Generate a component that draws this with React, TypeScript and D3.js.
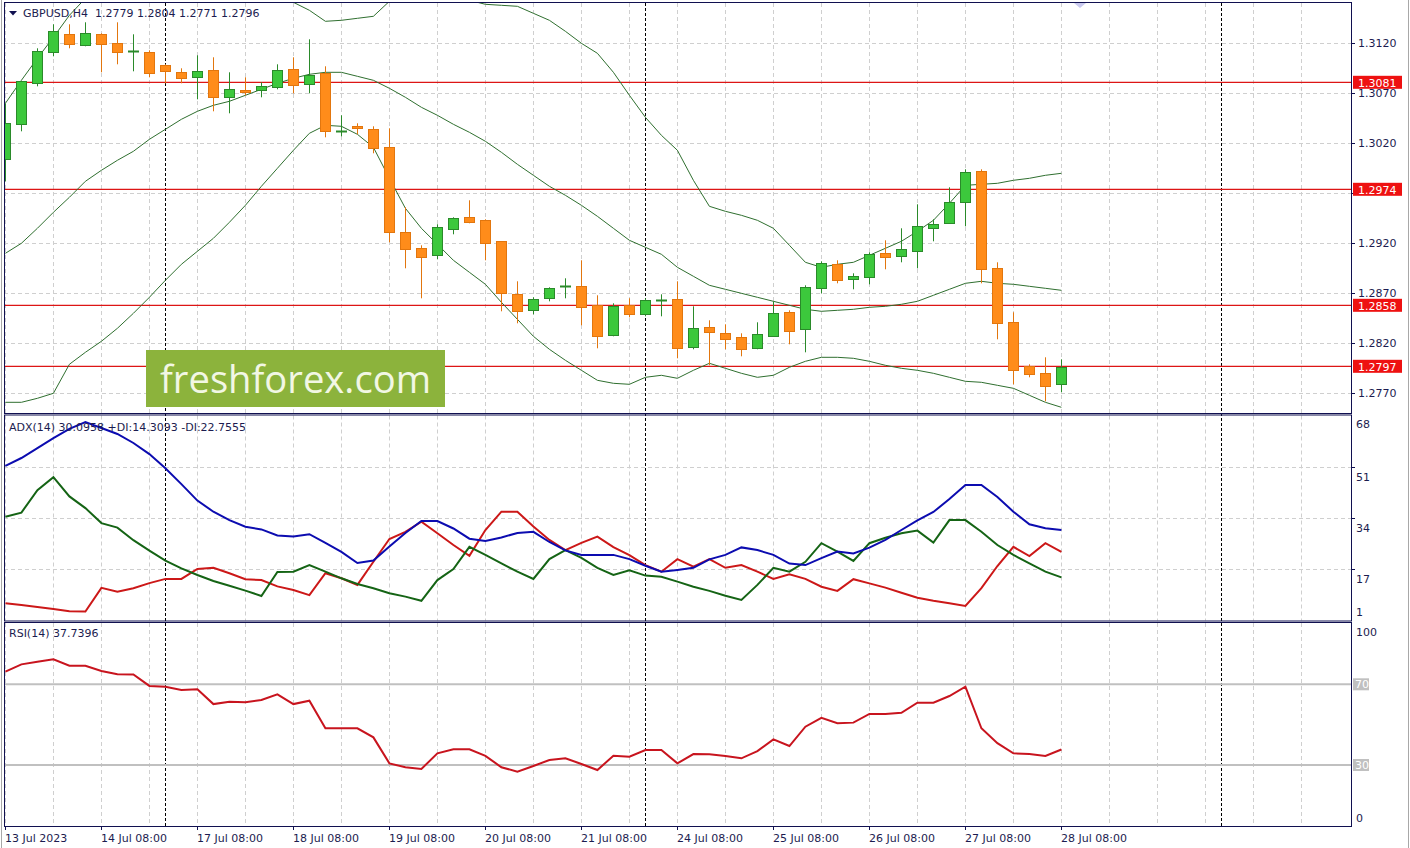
import React from 'react';
import * as d3 from 'd3';

// ---------- DATA ----------
const symbolHeader = 'GBPUSD,H4  1.2779 1.2804 1.2771 1.2796';
const adxHeader = 'ADX(14) 30.0958 +DI:14.3093 -DI:22.7555';
const rsiHeader = 'RSI(14) 37.7396';

const openP = [1.3004,1.3039,1.3080,1.3111,1.3129,1.3118,1.3129,1.3120,1.3111,1.3111,
  1.3098,1.3091,1.3086,1.3093,1.3066,1.3073,1.3073,1.3076,1.3094,1.3079,
  1.3090,1.3031,1.3037,1.3034,1.3016,1.2931,1.2915,1.2908,1.2934,1.2946,
  1.2943,1.2922,1.2869,1.2853,1.2865,1.2876,1.2877,1.2858,1.2828,1.2858,
  1.2849,1.2862,1.2864,1.2816,1.2836,1.2830,1.2826,1.2815,1.2827,1.2851,
  1.2834,1.2875,1.2899,1.2884,1.2886,1.2910,1.2907,1.2912,1.2935,1.2940,
  1.2961,1.2992,1.2895,1.2841,1.2797,1.2790,1.2779];
const highP = [1.3060,1.3082,1.3115,1.3139,1.3139,1.3141,1.3130,1.3141,1.3129,1.3113,
  1.3099,1.3095,1.3108,1.3106,1.3091,1.3086,1.3081,1.3099,1.3106,1.3124,
  1.3097,1.3048,1.3040,1.3037,1.3035,1.2956,1.2918,1.2939,1.2946,1.2963,
  1.2944,1.2922,1.2882,1.2866,1.2876,1.2885,1.2903,1.2868,1.2860,1.2865,
  1.2865,1.2869,1.2882,1.2857,1.2843,1.2839,1.2830,1.2841,1.2862,1.2853,
  1.2878,1.2902,1.2903,1.2890,1.2911,1.2923,1.2935,1.2959,1.2944,1.2976,
  1.2994,1.2994,1.2901,1.2851,1.2799,1.2806,1.2804];
const lowP = [1.2982,1.3032,1.3077,1.3107,1.3115,1.3117,1.3091,1.3099,1.3092,1.3086,
  1.3080,1.3080,1.3064,1.3052,1.3050,1.3068,1.3066,1.3074,1.3070,1.3070,
  1.3026,1.3027,1.3029,1.3010,1.2921,1.2895,1.2865,1.2904,1.2929,1.2940,
  1.2903,1.2852,1.2840,1.2849,1.2862,1.2865,1.2838,1.2815,1.2827,1.2846,
  1.2847,1.2847,1.2805,1.2814,1.2798,1.2814,1.2807,1.2814,1.2827,1.2819,
  1.2811,1.2870,1.2880,1.2874,1.2879,1.2894,1.2901,1.2895,1.2922,1.2940,
  1.2937,1.2880,1.2824,1.2779,1.2786,1.2762,1.2771];
const closeP = [1.3040,1.3082,1.3112,1.3132,1.3119,1.3130,1.3119,1.3111,1.3112,1.3090,
  1.3092,1.3085,1.3092,1.3066,1.3074,1.3071,1.3077,1.3093,1.3078,1.3088,
  1.3032,1.3032,1.3035,1.3015,1.2931,1.2914,1.2906,1.2936,1.2945,1.2941,
  1.2920,1.2870,1.2852,1.2864,1.2875,1.2877,1.2856,1.2827,1.2857,1.2849,
  1.2863,1.2863,1.2815,1.2835,1.2831,1.2824,1.2814,1.2829,1.2850,1.2832,
  1.2876,1.2900,1.2883,1.2887,1.2909,1.2906,1.2914,1.2937,1.2939,1.2961,
  1.2991,1.2894,1.2840,1.2793,1.2789,1.2777,1.2796];

const bbUpper = [1.3060,1.3083,1.3105,1.3126,1.3148,1.3165,1.3178,1.3188,1.3195,1.3199,
  1.3201,1.3201,1.3199,1.3196,1.3191,1.3185,1.3177,1.3168,1.3161,1.3153,
  1.3142,1.3143,1.3145,1.3147,1.3162,1.3175,1.3183,1.3185,1.3179,1.3163,
  1.3159,1.3158,1.3157,1.3150,1.3143,1.3132,1.3120,1.3110,1.3091,1.3068,
  1.3046,1.3028,1.3013,1.2983,1.2957,1.2952,1.2948,1.2943,1.2935,1.2918,
  1.2901,1.2896,1.2899,1.2901,1.2908,1.2915,1.2922,1.2932,1.2943,1.2960,
  1.2978,1.2979,1.2980,1.2983,1.2985,1.2988,1.2990];
const bbMiddle = [1.2910,1.2920,1.2935,1.2951,1.2966,1.2982,1.2993,1.3003,1.3012,1.3024,
  1.3034,1.3044,1.3052,1.3058,1.3062,1.3068,1.3074,1.3080,1.3085,1.3089,
  1.3091,1.3091,1.3087,1.3083,1.3075,1.3066,1.3056,1.3048,1.3039,1.3031,
  1.3022,1.3011,1.2999,1.2988,1.2977,1.2968,1.2958,1.2947,1.2935,1.2923,
  1.2916,1.2909,1.2896,1.2887,1.2878,1.2874,1.2870,1.2866,1.2862,1.2858,
  1.2854,1.2852,1.2853,1.2854,1.2856,1.2857,1.2859,1.2862,1.2868,1.2874,
  1.2880,1.2882,1.2880,1.2879,1.2877,1.2875,1.2873];
const bbLower = [1.2761,1.2761,1.2765,1.2770,1.2799,1.2811,1.2822,1.2835,1.2850,1.2866,
  1.2883,1.2899,1.2912,1.2925,1.2941,1.2958,1.2977,1.2995,1.3013,1.3030,
  1.3038,1.3037,1.3029,1.3016,1.2985,1.2955,1.2935,1.2919,1.2903,1.2891,
  1.2879,1.2861,1.2844,1.2827,1.2814,1.2803,1.2793,1.2783,1.2780,1.2779,
  1.2786,1.2788,1.2785,1.2793,1.2800,1.2795,1.2790,1.2786,1.2788,1.2796,
  1.2802,1.2806,1.2806,1.2805,1.2802,1.2798,1.2795,1.2793,1.2790,1.2786,
  1.2782,1.2781,1.2778,1.2775,1.2768,1.2761,1.2756];

const adxMain = [51.5,54.1,57.4,60.7,63.8,66.1,64.1,62.1,59.1,55.4,
  50.7,45.4,39.9,36.2,33.4,31.2,30.3,28.3,27.9,28.7,
  25.8,22.8,19.1,19.9,24.6,29.1,33.1,33.1,30.6,27.2,
  26.4,27.6,29.1,29.5,26.1,23.3,21.8,21.8,21.8,20.4,
  18.2,16.2,16.8,17.5,20.3,21.8,24.3,23.4,21.8,18.9,
  18.4,20.7,22.9,22.3,24.2,26.8,30.1,33.3,36.1,40.4,
  45.1,45.1,41.1,36.2,32.0,30.7,30.1];
const plusDI = [34.5,35.9,43.4,47.7,41.3,37.4,32.4,30.9,26.7,23.2,
  19.9,17.3,15.1,13.1,11.5,9.9,8.1,16.1,16.2,18.4,
  16.2,14.0,12.1,10.7,9.0,7.9,6.5,13.4,17.1,24.5,
  21.8,19.0,16.2,13.8,20.4,23.4,20.8,17.5,15.1,16.7,
  14.9,14.5,12.9,11.2,9.8,8.2,6.8,11.8,17.5,16.2,
  19.5,25.7,22.9,19.8,25.7,27.5,29.0,29.9,25.9,33.4,
  33.4,29.5,25.1,21.8,19.0,16.2,14.3];
const minusDI = [5.7,5.1,4.4,3.8,3.0,2.9,10.8,9.5,10.7,12.4,
  13.8,13.8,17.1,17.5,15.7,13.7,13.4,11.3,10.1,8.4,
  15.7,14.0,11.8,19.5,27.1,29.5,32.9,29.0,25.1,21.5,
  30.1,36.2,36.2,31.3,26.8,23.4,25.8,27.9,24.4,21.7,
  18.4,16.2,20.4,17.9,20.4,17.5,18.4,16.2,13.8,15.3,
  13.8,11.2,9.8,13.7,12.3,10.9,9.2,7.5,6.5,5.7,
  4.8,10.7,18.1,24.5,21.4,25.7,22.8];
const rsiValues = [76.3,79.9,81.2,82.4,79.2,79.2,76.6,75.0,74.9,69.2,
  68.8,67.2,67.6,60.2,61.4,61.1,62.2,65.0,60.2,61.9,
  48.2,48.2,48.2,43.7,30.8,28.9,28.0,35.8,37.8,37.8,
  34.5,28.9,26.7,29.5,32.5,33.3,30.5,27.5,34.6,34.1,
  37.4,37.4,30.8,35.4,35.3,34.5,33.3,36.9,42.7,39.4,
  49.0,53.4,50.7,51.0,55.3,55.3,55.9,60.9,60.9,64.2,
  68.8,48.2,40.8,35.8,35.4,34.5,37.7];

const priceTicks = [1.3120, 1.3070, 1.3020, 1.2970, 1.2920, 1.2870, 1.2820, 1.2770];
const levelPrices = [1.3081, 1.2974, 1.2858, 1.2797];
const adxGridLevels = [51, 34, 17];
const adxTickLabels = ['68', '51', '34', '17', '1'];
const rsiLevels = [70, 30];
const timeLabels = ['13 Jul 2023', '14 Jul 08:00', '17 Jul 08:00', '18 Jul 08:00', '19 Jul 08:00',
  '20 Jul 08:00', '21 Jul 08:00', '24 Jul 08:00', '25 Jul 08:00', '26 Jul 08:00', '27 Jul 08:00', '28 Jul 08:00'];
const weekSeparators = [10, 40, 76];

// ---------- LAYOUT ----------
const L = 4, R = 1351;
const MAIN = { top: 3, bottom: 413 };
const ADXP = { top: 415.5, bottom: 620.5 };
const RSIP = { top: 623, bottom: 826 };
const NAVY = '#101050';
const TXT = '#1c1c50';
const FONT = 'DejaVu Sans, Verdana, sans-serif';

export default function App() {
  const n = closeP.length;
  const x = d3.scaleLinear().domain([0, 66]).range([5.4, 1061.4]);
  const yP = d3.scaleLinear().domain([1.2770, 1.3120]).range([393.3, 43.3]);
  const yA = d3.scaleLinear().domain([17, 51]).range([569.3, 467.3]);
  const yR = d3.scaleLinear().domain([0, 100]).range([825.5, 623.8]);

  const idx = d3.range(n);
  const lineFrom = (arr: number[], ys: d3.ScaleLinear<number, number>) =>
    d3.line<number>().x((i) => x(i)).y((i) => ys(arr[i]))(idx) || '';

  const gridIdx = d3.range(0, 90, 3).filter((i) => x(i) < R - 4);
  const labelIdx = timeLabels.map((_, k) => k * 6);

  const crisp = (v: number) => Math.round(v) + 0.5;
  // tick labels hidden by a level label box are not drawn
  const visibleTickLabels = priceTicks.filter((p) => levelPrices.every((l) => Math.abs(yP(l) - yP(p)) > 9));

  return (
    <svg width={1410} height={848} style={{ position: 'absolute', left: 0, top: 0, background: '#fff' }}
      fontFamily={FONT}>
      <defs>
        <clipPath id="clipMain"><rect x={L} y={MAIN.top} width={R - L} height={MAIN.bottom - MAIN.top} /></clipPath>
        <clipPath id="clipAdx"><rect x={L} y={ADXP.top} width={R - L} height={ADXP.bottom - ADXP.top} /></clipPath>
        <clipPath id="clipRsi"><rect x={L} y={RSIP.top} width={R - L} height={RSIP.bottom - RSIP.top} /></clipPath>
        <clipPath id="clip3070"><rect x={1353} y={yP(1.3070) - 2} width={50} height={10} /></clipPath>
      </defs>
      <rect x={0} y={0} width={1410} height={848} fill="#ffffff" />
      <line x1={1.5} x2={1.5} y1={0} y2={848} stroke="#a8a8a8" />
      <line x1={1408.5} x2={1408.5} y1={0} y2={848} stroke="#a8a8a8" />

      {[MAIN, ADXP, RSIP].map((p, pi) => (
        <g key={'vg' + pi}>
          {gridIdx.map((i) => (
            <line key={i} x1={crisp(x(i))} x2={crisp(x(i))} y1={p.top} y2={p.bottom}
              stroke="#cfcfcf" strokeDasharray="4,3" />
          ))}
        </g>
      ))}
      {priceTicks.map((p) => (
        <line key={p} x1={L} x2={R} y1={crisp(yP(p))} y2={crisp(yP(p))} stroke="#cfcfcf" strokeDasharray="4,3" />
      ))}
      {adxGridLevels.map((v) => (
        <line key={v} x1={L} x2={R} y1={crisp(yA(v))} y2={crisp(yA(v))} stroke="#cfcfcf" strokeDasharray="4,3" />
      ))}

      {weekSeparators.map((i) => (
        <line key={i} x1={crisp(x(i))} x2={crisp(x(i))} y1={MAIN.top} y2={RSIP.bottom}
          stroke="#000" strokeDasharray="3,2" />
      ))}

      {/* MAIN PANEL */}
      <g clipPath="url(#clipMain)">
        {levelPrices.map((p) => (
          <line key={p} x1={L} x2={R} y1={yP(p)} y2={yP(p)} stroke="#dd1515" strokeWidth={1.3} />
        ))}
        {[bbUpper, bbMiddle, bbLower].map((arr, k) => (
          <path key={k} d={lineFrom(arr, yP)} fill="none" stroke="#2f6f2f" strokeWidth={1} />
        ))}
        {idx.map((i) => {
          const up = closeP[i] >= openP[i];
          const cx = Math.round(x(i));
          const yt = Math.round(yP(Math.max(openP[i], closeP[i])));
          const yb = Math.round(yP(Math.min(openP[i], closeP[i])));
          const fill = up ? '#3cc83c' : '#ff8c1a';
          const stroke = up ? '#2a8a2a' : '#e2760e';
          return (
            <g key={i}>
              <line x1={cx + 0.5} x2={cx + 0.5} y1={yP(highP[i])} y2={yP(lowP[i])} stroke={stroke} strokeWidth={1} />
              {yb - yt >= 2 ? (
                <rect x={cx - 5 + 0.5} y={yt + 0.5} width={10} height={yb - yt} fill={fill} stroke={stroke} strokeWidth={1} />
              ) : (
                <rect x={cx - 5} y={yt - 0.5} width={11} height={2} fill={stroke} />
              )}
            </g>
          );
        })}
        <rect x={146} y={350} width={299} height={57} fill="#8cb33c" />
        <text x={160} y={393} fontFamily="Open Sans, sans-serif" fontSize={38} fill="#f2f7e4"
          textLength={271} lengthAdjust="spacingAndGlyphs">freshforex.com</text>
        <polygon points="1074,3 1086,3 1080,8" fill="#c9c9ee" />
      </g>
      <polygon points="9,11 17,11 13,15.5" fill={NAVY} />
      <text x={23} y={17} fontSize={11} fill={TXT} style={{ whiteSpace: 'pre' }}>{symbolHeader}</text>

      {/* ADX PANEL */}
      <g clipPath="url(#clipAdx)">
        <path d={lineFrom(minusDI, yA)} fill="none" stroke="#cc1818" strokeWidth={2} />
        <path d={lineFrom(plusDI, yA)} fill="none" stroke="#156415" strokeWidth={2} />
        <path d={lineFrom(adxMain, yA)} fill="none" stroke="#0c0cb0" strokeWidth={2} />
      </g>
      <text x={9} y={431} fontSize={11} fill={TXT}>{adxHeader}</text>

      {/* RSI PANEL */}
      <g clipPath="url(#clipRsi)">
        {rsiLevels.map((v) => (
          <line key={v} x1={L} x2={R} y1={yR(v)} y2={yR(v)} stroke="#c0c0c0" strokeWidth={2} />
        ))}
        <path d={lineFrom(rsiValues, yR)} fill="none" stroke="#c8141e" strokeWidth={2} />
      </g>
      <text x={9} y={637} fontSize={11} fill={TXT}>{rsiHeader}</text>

      {[MAIN, ADXP, RSIP].map((p, k) => (
        <rect key={k} x={L + 0.5} y={p.top - 0.5} width={R - L} height={p.bottom - p.top + 1}
          fill="none" stroke={NAVY} strokeWidth={1} />
      ))}

      {/* right price axis */}
      {priceTicks.map((p) => (
        <line key={p} x1={R} x2={R + 4} y1={crisp(yP(p))} y2={crisp(yP(p))} stroke={NAVY} />
      ))}
      {visibleTickLabels.map((p) => (
        <text key={p} x={1358} y={yP(p) + 4} fontSize={11} fill={TXT}>{p.toFixed(4)}</text>
      ))}
      {levelPrices.map((p) => (
        <g key={p}>
          <rect x={1353} y={yP(p) - 6.5} width={49} height={13} fill="#ee1111" />
          <text x={1358} y={yP(p) + 4.5} fontSize={11} fill="#ffffff">{p.toFixed(4)}</text>
        </g>
      ))}

      {/* ADX axis */}
      {adxGridLevels.map((v) => (
        <line key={v} x1={R} x2={R + 4} y1={crisp(yA(v))} y2={crisp(yA(v))} stroke={NAVY} />
      ))}
      {adxTickLabels.map((s) => {
        const v = +s;
        const cy = v === 68 ? 424 : v === 1 ? 612 : yA(v) + 10;
        return <text key={s} x={1356} y={cy + 4} fontSize={11} fill={TXT}>{s}</text>;
      })}

      {/* RSI axis */}
      <text x={1356} y={636} fontSize={11} fill={TXT}>100</text>
      <text x={1356} y={822} fontSize={11} fill={TXT}>0</text>
      {rsiLevels.map((v) => (
        <g key={v}>
          <rect x={1353} y={yR(v) - 6} width={16} height={12} fill="#c0c0c0" />
          <text x={1355} y={yR(v) + 4} fontSize={11} fill="#ffffff">{v}</text>
        </g>
      ))}

      {/* time axis */}
      {labelIdx.map((i, k) => (
        <g key={i}>
          <line x1={crisp(x(i))} x2={crisp(x(i))} y1={RSIP.bottom} y2={RSIP.bottom + 4} stroke={NAVY} />
          <text x={Math.round(x(i))} y={842} fontSize={11} fill={TXT}>{timeLabels[k]}</text>
        </g>
      ))}
    </svg>
  );
}
